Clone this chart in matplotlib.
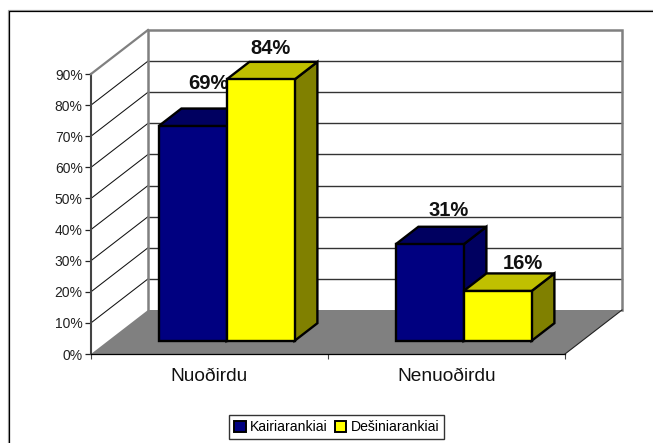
import matplotlib
matplotlib.use('Agg')
import matplotlib.pyplot as plt
from matplotlib.lines import Line2D
from matplotlib.patches import Polygon, Rectangle

categories = ['Nuoðirdu', 'Nenuoðirdu']
series_names = ['Kairiarankiai', 'Dešiniarankiai']
kairiarankiai = [69, 31]
desiniarankiai = [84, 16]
y_ticks = [0, 10, 20, 30, 40, 50, 60, 70, 80, 90]

plt.rcParams['font.family'] = ['Liberation Sans', 'DejaVu Sans']

W, H = 653, 443
fig = plt.figure(figsize=(W / 100, H / 100), dpi=100)

# chart frame only shows on top and left, grey halo outside the black line
for off, col in [(-1, '#aaaaaa'), (0, 'black')]:
    x = (8.5 + off) / W
    y = 1 - (10.5 + off) / H
    fig.add_artist(Line2D([x, x, 1], [0, y, y], color=col, lw=0.9, transform=fig.transFigure))

ax = fig.add_axes([91 / W, 1 - 354 / H, 474 / W, 280 / H])
ax.set_xlim(0, 2)
ax.set_ylim(0, 90)
ax.patch.set_visible(False)

# depth of the fake 3d box in data units
depth_x = 57 / 237
depth_y = 44 / 280 * 90


def proj(x, y, d):
    return (x + d * depth_x, y + d * depth_y)


def face(points, **kw):
    ax.add_patch(Polygon(points, closed=True, clip_on=False, **kw))


# floor and walls
face([proj(0, 0, 0), proj(2, 0, 0), proj(2, 0, 1), proj(0, 0, 1)], fc='#808080', ec='none', zorder=1)

for t in y_ticks[1:-1]:
    ax.plot(*zip(proj(0, t, 0), proj(0, t, 1)), color='#111111', lw=0.75, clip_on=False, zorder=2)
    ax.plot(*zip(proj(0, t, 1), proj(2, t, 1)), color='#333333', lw=1.0, clip_on=False, zorder=2)
ax.plot(*zip(proj(0, 0, 1), proj(0, 90, 1), proj(2, 90, 1), proj(2, 0, 1)), color='#808080',
        lw=1.8, clip_on=False, zorder=3, solid_joinstyle='miter')
ax.plot(*zip(proj(0, 90, 0), proj(0, 90, 1)), color='#808080', lw=1.6, clip_on=False, zorder=3)
ax.plot(*zip(proj(2, 0, 0), proj(2, 0, 1)), color='#222222', lw=0.8, clip_on=False, zorder=3)

# bars
bar_w = 68 / 237
d0, d1 = 0.3, 0.7
series = [(kairiarankiai, '#000080', '#000060', '#000060'),
          (desiniarankiai, '#FFFF00', '#C0C000', '#808000')]
edge = dict(ec='black', lw=1.7, joinstyle='miter')
# value labels do not sit the same way on every bar, nudges in points
label_nudge = [[(-5, 11.5), (-9.5, 2.5)], [(-3, 5), (2, 0.5)]]
for i in range(len(categories)):
    for j, (vals, front, top, side) in enumerate(series):
        x0 = i + 0.5 + (j - 1) * bar_w
        x1 = x0 + bar_w
        v = vals[i]
        z = 5 + j * 3
        face([proj(x1, 0, d0), proj(x1, 0, d1), proj(x1, v, d1), proj(x1, v, d0)], fc=side, zorder=z, **edge)
        face([proj(x0, v, d0), proj(x1, v, d0), proj(x1, v, d1), proj(x0, v, d1)], fc=top, zorder=z, **edge)
        face([proj(x0, 0, d0), proj(x1, 0, d0), proj(x1, v, d0), proj(x0, v, d0)], fc=front, zorder=z + 1, **edge)
        lx, ly = proj(x0 + bar_w / 2, v, 0.7)
        ax.annotate(f'{v}%', (lx, ly), xytext=label_nudge[i][j], textcoords='offset points', ha='center',
                    va='bottom', fontsize=14.5, fontweight='bold', color='#111111',
                    annotation_clip=False, zorder=5 + j * 3 - 1 if (i, j) == (0, 0) else 12)

# axes
for s in ['top', 'right']:
    ax.spines[s].set_visible(False)
ax.spines['left'].set_color('#444444')
ax.spines['left'].set_linewidth(1.5)
ax.spines['bottom'].set_color('black')
ax.spines['bottom'].set_linewidth(0.9)
ax.set_yticks(y_ticks)
ax.set_yticklabels([f'{t}%' for t in y_ticks], fontsize=10, color='#222222')
ax.tick_params(axis='y', length=4, width=0.9, pad=2, color='#222222')
ax.set_xticks([0, 1, 2])
ax.set_xticklabels(['', '', ''])
ax.tick_params(axis='x', length=3.5, width=0.8, color='#444444')
for i, c in enumerate(categories):
    ax.annotate(c, (i + 0.5, 0), xytext=(0, -10), textcoords='offset points', ha='center',
                va='top', fontsize=13.8, color='#111111', annotation_clip=False)

# legend
handles = [Rectangle((0, 0), 1, 1, fc=series[k][1], ec='black', lw=1.4) for k in range(2)]
fig.legend(handles, series_names, loc='center', bbox_to_anchor=(336.5 / W, 1 - 427 / H), ncol=2,
           fontsize=10.1, frameon=True, fancybox=False, edgecolor='#333333', framealpha=1,
           handlelength=0.85, handleheight=0.85, handletextpad=0.3, columnspacing=0.5,
           borderpad=0.35, borderaxespad=0)

fig.savefig('out.png', dpi=100)
